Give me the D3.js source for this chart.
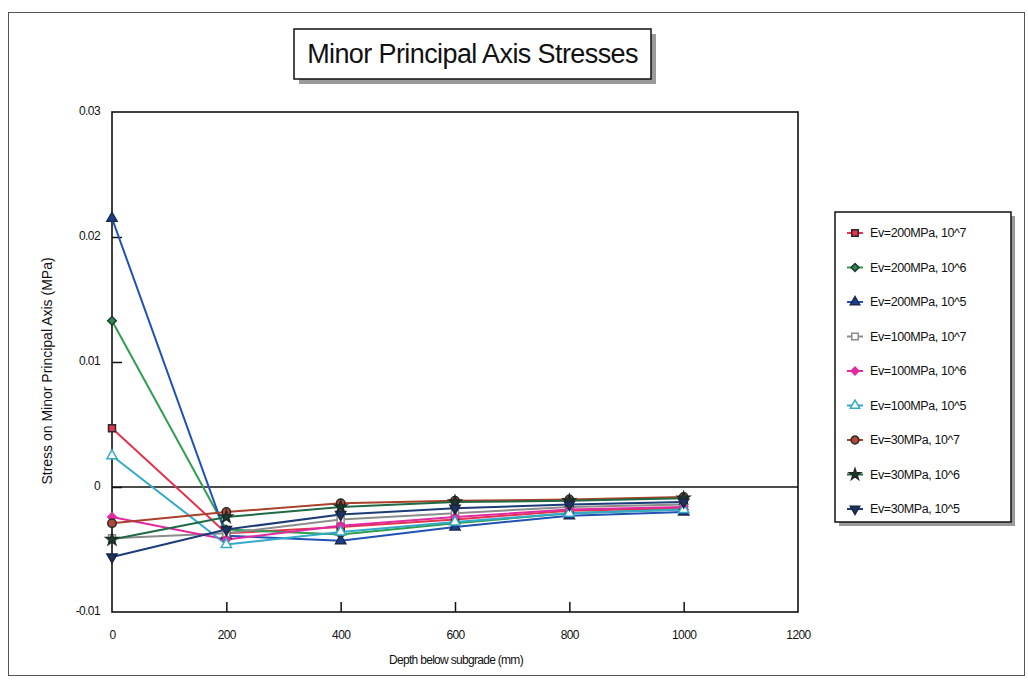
<!DOCTYPE html>
<html>
<head>
<meta charset="utf-8">
<script src="https://cdn.jsdelivr.net/npm/d3@7"></script>
<style>
  html, body { margin: 0; padding: 0; background: #ffffff; }
  svg { display: block; font-family: "Liberation Sans", Arial, Helvetica, sans-serif; }
</style>
</head>
<body>
<svg id="chart" width="1028" height="681"></svg>
<script>
// Depth below subgrade (mm)
const depths = [0, 200, 400, 600, 800, 1000];

// Minor principal axis stress (MPa) for each modulus / load-repetition case
const seriesNames = [
  "Ev=200MPa, 10^7", "Ev=200MPa, 10^6", "Ev=200MPa, 10^5",
  "Ev=100MPa, 10^7", "Ev=100MPa, 10^6", "Ev=100MPa, 10^5",
  "Ev=30MPa, 10^7",  "Ev=30MPa, 10^6",  "Ev=30MPa, 10^5"
];
const ev200_1e7 = [0.0047, -0.0037, -0.0032, -0.0026, -0.0019, -0.0017];
const ev200_1e6 = [0.0133, -0.0034, -0.0038, -0.0029, -0.0021, -0.0018];
const ev200_1e5 = [0.0215, -0.0039, -0.0043, -0.0032, -0.0023, -0.0020];
const ev100_1e7 = [-0.0041, -0.0037, -0.0026, -0.0021, -0.0016, -0.0014];
const ev100_1e6 = [-0.0024, -0.0042, -0.0031, -0.0024, -0.0018, -0.0016];
const ev100_1e5 = [0.0025, -0.0046, -0.0036, -0.0028, -0.0021, -0.0018];
const ev30_1e7  = [-0.0029, -0.0020, -0.0013, -0.0011, -0.0010, -0.0008];
const ev30_1e6  = [-0.0042, -0.0024, -0.0016, -0.0012, -0.0011, -0.0009];
const ev30_1e5  = [-0.0056, -0.0034, -0.0022, -0.0017, -0.0014, -0.0012];
const seriesValues = [ev200_1e7, ev200_1e6, ev200_1e5, ev100_1e7, ev100_1e6, ev100_1e5, ev30_1e7, ev30_1e6, ev30_1e5];

const xTicks = [0, 200, 400, 600, 800, 1000, 1200];
const yTicks = [-0.01, 0, 0.01, 0.02, 0.03];
const yTickLabels = ["-0.01", "0", "0.01", "0.02", "0.03"];

// Line colour, marker shape and marker fill per series
const lineColors = ["#e2334f", "#2f9e50", "#1f52b4", "#8c8c8c", "#e12aa0", "#35a9c9", "#a8402a", "#1f6a44", "#1b3c78"];
const markerShapes = ["square", "diamond", "triangle", "square", "diamond", "triangle", "circle", "star", "triangleDown"];
const markerFills = ["#e2334f", "#2f8a50", "#1b3f8a", "#ffffff", "#e12aa0", "#ffffff", "#b0483a", "#1e3a2e", "#1b3462"];
const markerStrokes = ["#2a2a2a", "#1e3a2e", "#1b2a50", "#8c8c8c", "#e12aa0", "#35a9c9", "#2a2a2a", "#1e2a24", "#1a2540"];

const svg = d3.select("#chart");

// Page frame
svg.append("rect").attr("x", 8.5).attr("y", 12.5).attr("width", 1016).attr("height", 663)
  .attr("fill", "none").attr("stroke", "#555").attr("stroke-width", 1);

const plot = { left: 112, right: 798, top: 112, bottom: 612 };
const x = d3.scaleLinear().domain([0, 1200]).range([plot.left, plot.right]);
const y = d3.scaleLinear().domain([-0.01, 0.03]).range([plot.bottom, plot.top]);

// Title box with drop shadow
const title = { x: 294, y: 29, w: 357, h: 50 };
svg.append("rect").attr("x", title.x + 5).attr("y", title.y + 5).attr("width", title.w).attr("height", title.h)
  .attr("fill", "#9a9a9a");
svg.append("rect").attr("x", title.x).attr("y", title.y).attr("width", title.w).attr("height", title.h)
  .attr("fill", "#fff").attr("stroke", "#111").attr("stroke-width", 1.5);
svg.append("text").attr("x", title.x + title.w / 2).attr("y", title.y + 34)
  .attr("text-anchor", "middle").attr("font-size", 27).attr("letter-spacing", -0.6)
  .attr("fill", "#111").text("Minor Principal Axis Stresses");

// Plot frame
svg.append("rect").attr("x", plot.left).attr("y", plot.top)
  .attr("width", plot.right - plot.left).attr("height", plot.bottom - plot.top)
  .attr("fill", "none").attr("stroke", "#111").attr("stroke-width", 1.6);

// Axes with inward ticks
const xAxis = svg.append("g").attr("transform", `translate(0,${plot.bottom})`)
  .call(d3.axisBottom(x).tickValues(xTicks).tickSizeInner(-10).tickSizeOuter(0).tickPadding(18).tickFormat(d3.format("d")));
const yAxis = svg.append("g").attr("transform", `translate(${plot.left},0)`)
  .call(d3.axisLeft(y).tickValues(yTicks).tickSizeInner(-10).tickSizeOuter(0).tickPadding(12)
    .tickFormat((d, i) => yTickLabels[i]));
[xAxis, yAxis].forEach(g => {
  g.select(".domain").remove();
  g.selectAll(".tick line").attr("stroke", "#111").attr("stroke-width", 1.5);
  g.selectAll(".tick text").attr("font-size", 12).attr("fill", "#111")
    .attr("font-family", "\"Liberation Sans\", Arial, sans-serif").attr("letter-spacing", -0.6);
});
yAxis.selectAll(".tick text").attr("dy", "0.2em");
// hide the edge ticks that sit on the frame
xAxis.selectAll(".tick line").filter(d => d === 0 || d === 1200).remove();
yAxis.selectAll(".tick line").filter(d => d === -0.01 || d === 0.03).remove();

// Zero reference line
svg.append("line").attr("x1", plot.left).attr("x2", plot.right).attr("y1", y(0)).attr("y2", y(0))
  .attr("stroke", "#111").attr("stroke-width", 1.6);

// Axis titles
svg.append("text").attr("x", 456).attr("y", 664).attr("text-anchor", "middle")
  .attr("font-size", 12).attr("letter-spacing", -0.7).attr("fill", "#111").text("Depth below subgrade (mm)");
svg.append("text").attr("transform", "translate(52,371) rotate(-90)").attr("text-anchor", "middle")
  .attr("font-size", 14).attr("fill", "#111").text("Stress on Minor Principal Axis (MPa)");

// Marker generator (diamond = square turned 45 degrees, down triangle = triangle turned 180)
function markerPath(shape, size) {
  const types = {
    square: d3.symbolSquare, diamond: d3.symbolSquare, triangle: d3.symbolTriangle,
    circle: d3.symbolCircle, star: d3.symbolStar, triangleDown: d3.symbolTriangle
  };
  return d3.symbol().type(types[shape]).size(size)();
}
function markerTransform(shape, px, py) {
  const rot = shape === "triangleDown" ? 180 : shape === "diamond" ? 45 : 0;
  return `translate(${px},${py}) rotate(${rot})`;
}
const markerSizes = { square: 49, diamond: 36, triangle: 45, circle: 56, star: 45, triangleDown: 45 };

// Series lines and markers
const line = d3.line().x((d, i) => x(depths[i])).y(d => y(d));
const seriesG = svg.append("g");
seriesValues.forEach((vals, s) => {
  seriesG.append("path").datum(vals).attr("d", line)
    .attr("fill", "none").attr("stroke", lineColors[s]).attr("stroke-width", 2);
});
seriesValues.forEach((vals, s) => {
  const shape = markerShapes[s];
  seriesG.selectAll(null).data(vals).enter().append("path")
    .attr("d", markerPath(shape, markerSizes[shape]))
    .attr("transform", (d, i) => markerTransform(shape, x(depths[i]), y(d)))
    .attr("fill", markerFills[s]).attr("stroke", markerStrokes[s]).attr("stroke-width", 1.5);
});

// Legend box with drop shadow
const legend = { x: 835, y: 212, w: 176, h: 310 };
svg.append("rect").attr("x", legend.x + 4).attr("y", legend.y + 4).attr("width", legend.w).attr("height", legend.h)
  .attr("fill", "#9a9a9a");
svg.append("rect").attr("x", legend.x).attr("y", legend.y).attr("width", legend.w).attr("height", legend.h)
  .attr("fill", "#fff").attr("stroke", "#111").attr("stroke-width", 1.5);
const legendRow = d3.scaleLinear().domain([0, seriesNames.length - 1]).range([legend.y + 21, legend.y + 297]);
seriesNames.forEach((name, s) => {
  const ly = legendRow(s);
  const shape = markerShapes[s];
  svg.append("line").attr("x1", 847).attr("x2", 863).attr("y1", ly).attr("y2", ly)
    .attr("stroke", lineColors[s]).attr("stroke-width", 2);
  svg.append("path").attr("d", markerPath(shape, markerSizes[shape] * 0.85))
    .attr("transform", markerTransform(shape, 855, ly))
    .attr("fill", markerFills[s]).attr("stroke", markerStrokes[s]).attr("stroke-width", 1.5);
  svg.append("text").attr("x", 870).attr("y", ly + 4).attr("font-size", 12.5).attr("letter-spacing", -0.4)
    .attr("fill", "#111").text(name);
});
</script>
</body>
</html>
